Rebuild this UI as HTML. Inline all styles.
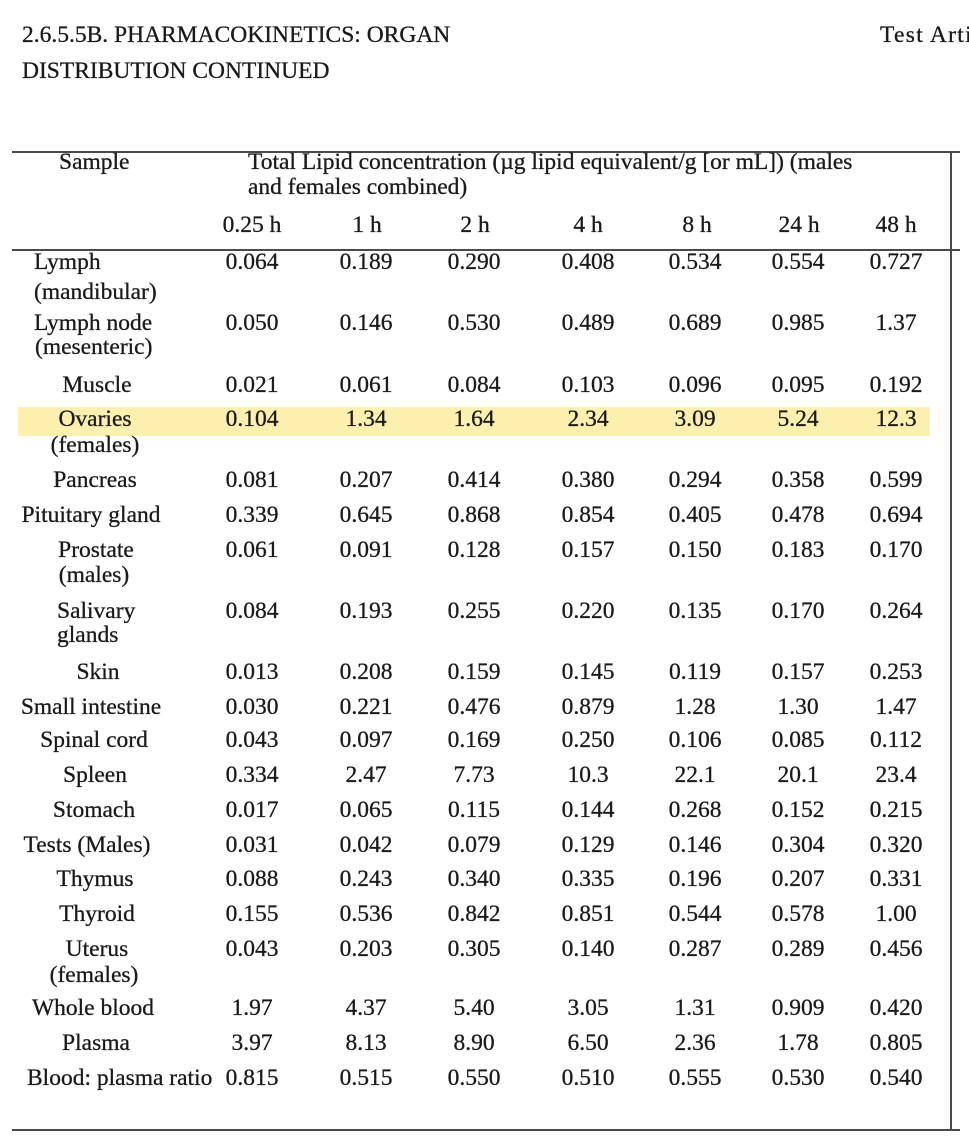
<!DOCTYPE html>
<html>
<head>
<meta charset="utf-8">
<style>
html,body{margin:0;padding:0;background:#fff;}
body{width:969px;height:1145px;position:relative;overflow:hidden;font-family:"Liberation Serif","Times New Roman",serif;font-size:23.5px;color:#1a1a1a;-webkit-text-stroke:0.3px #1a1a1a;}
.t{position:absolute;white-space:nowrap;line-height:26px;height:26px;}
.c{width:140px;text-align:center;}
.s{width:190px;text-align:center;}
.rule{position:absolute;background:#4a4a4a;}
.hl{position:absolute;left:18px;top:407px;width:912px;height:29px;background:#fdf0ae;}
</style>
</head>
<body>
<div class="t" style="left:22px;top:22px;">2.6.5.5B. PHARMACOKINETICS: ORGAN</div>
<div class="t" style="left:22px;top:58px;">DISTRIBUTION CONTINUED</div>
<div class="t" style="left:880px;top:22px;letter-spacing:1.3px;">Test Article</div>

<div class="rule" style="left:12px;top:151px;width:948px;height:2px;"></div>
<div class="rule" style="left:12px;top:249px;width:948px;height:2px;"></div>
<div class="rule" style="left:12px;top:1129px;width:948px;height:2px;"></div>
<div class="rule" style="left:950px;top:151px;width:2px;height:980px;"></div>

<div class="hl"></div>

<div class="t" style="left:59px;top:149px;">Sample</div>
<div class="t" style="left:248px;top:149px;">Total Lipid concentration (µg lipid equivalent/g [or mL]) (males</div>
<div class="t" style="left:248px;top:174px;">and females combined)</div>

<div class="t c" style="left:182px;top:212px;">0.25 h</div>
<div class="t c" style="left:297px;top:212px;">1 h</div>
<div class="t c" style="left:405px;top:212px;">2 h</div>
<div class="t c" style="left:518px;top:212px;">4 h</div>
<div class="t c" style="left:627px;top:212px;">8 h</div>
<div class="t c" style="left:729px;top:212px;">24 h</div>
<div class="t c" style="left:826px;top:212px;">48 h</div>

<!-- Lymph -->
<div class="t" style="left:34px;top:249px;">Lymph</div>
<div class="t" style="left:34px;top:279px;">(mandibular)</div>
<!-- Lymph node -->
<div class="t" style="left:34px;top:310px;">Lymph node</div>
<div class="t" style="left:35px;top:334px;">(mesenteric)</div>
<!-- centered labels -->
<div class="t s" style="left:2px;top:372px;">Muscle</div>
<div class="t s" style="left:0px;top:406px;">Ovaries</div>
<div class="t s" style="left:0px;top:432px;">(females)</div>
<div class="t s" style="left:0px;top:467px;">Pancreas</div>
<div class="t s" style="left:-4px;top:502px;">Pituitary gland</div>
<div class="t s" style="left:1px;top:537px;">Prostate</div>
<div class="t s" style="left:-1px;top:562px;">(males)</div>
<div class="t" style="left:57px;top:598px;">Salivary</div>
<div class="t" style="left:57px;top:622px;">glands</div>
<div class="t s" style="left:3px;top:659px;">Skin</div>
<div class="t s" style="left:-4px;top:694px;">Small intestine</div>
<div class="t s" style="left:-1px;top:727px;">Spinal cord</div>
<div class="t s" style="left:0px;top:762px;">Spleen</div>
<div class="t s" style="left:-1px;top:797px;">Stomach</div>
<div class="t s" style="left:-8px;top:832px;">Tests (Males)</div>
<div class="t s" style="left:0px;top:866px;">Thymus</div>
<div class="t s" style="left:2px;top:901px;">Thyroid</div>
<div class="t s" style="left:2px;top:936px;">Uterus</div>
<div class="t s" style="left:-1px;top:962px;">(females)</div>
<div class="t s" style="left:-2px;top:995px;">Whole blood</div>
<div class="t s" style="left:1px;top:1030px;">Plasma</div>
<div class="t" style="left:27px;top:1065px;">Blood: plasma ratio</div>

<!-- data rows -->
<div class="t c" style="left:182px;top:249px;">0.064</div><div class="t c" style="left:296px;top:249px;">0.189</div><div class="t c" style="left:404px;top:249px;">0.290</div><div class="t c" style="left:518px;top:249px;">0.408</div><div class="t c" style="left:625px;top:249px;">0.534</div><div class="t c" style="left:728px;top:249px;">0.554</div><div class="t c" style="left:826px;top:249px;">0.727</div>

<div class="t c" style="left:182px;top:310px;">0.050</div><div class="t c" style="left:296px;top:310px;">0.146</div><div class="t c" style="left:404px;top:310px;">0.530</div><div class="t c" style="left:518px;top:310px;">0.489</div><div class="t c" style="left:625px;top:310px;">0.689</div><div class="t c" style="left:728px;top:310px;">0.985</div><div class="t c" style="left:826px;top:310px;">1.37</div>

<div class="t c" style="left:182px;top:372px;">0.021</div><div class="t c" style="left:296px;top:372px;">0.061</div><div class="t c" style="left:404px;top:372px;">0.084</div><div class="t c" style="left:518px;top:372px;">0.103</div><div class="t c" style="left:625px;top:372px;">0.096</div><div class="t c" style="left:728px;top:372px;">0.095</div><div class="t c" style="left:826px;top:372px;">0.192</div>

<div class="t c" style="left:182px;top:406px;">0.104</div><div class="t c" style="left:296px;top:406px;">1.34</div><div class="t c" style="left:404px;top:406px;">1.64</div><div class="t c" style="left:518px;top:406px;">2.34</div><div class="t c" style="left:625px;top:406px;">3.09</div><div class="t c" style="left:728px;top:406px;">5.24</div><div class="t c" style="left:826px;top:406px;">12.3</div>

<div class="t c" style="left:182px;top:467px;">0.081</div><div class="t c" style="left:296px;top:467px;">0.207</div><div class="t c" style="left:404px;top:467px;">0.414</div><div class="t c" style="left:518px;top:467px;">0.380</div><div class="t c" style="left:625px;top:467px;">0.294</div><div class="t c" style="left:728px;top:467px;">0.358</div><div class="t c" style="left:826px;top:467px;">0.599</div>

<div class="t c" style="left:182px;top:502px;">0.339</div><div class="t c" style="left:296px;top:502px;">0.645</div><div class="t c" style="left:404px;top:502px;">0.868</div><div class="t c" style="left:518px;top:502px;">0.854</div><div class="t c" style="left:625px;top:502px;">0.405</div><div class="t c" style="left:728px;top:502px;">0.478</div><div class="t c" style="left:826px;top:502px;">0.694</div>

<div class="t c" style="left:182px;top:537px;">0.061</div><div class="t c" style="left:296px;top:537px;">0.091</div><div class="t c" style="left:404px;top:537px;">0.128</div><div class="t c" style="left:518px;top:537px;">0.157</div><div class="t c" style="left:625px;top:537px;">0.150</div><div class="t c" style="left:728px;top:537px;">0.183</div><div class="t c" style="left:826px;top:537px;">0.170</div>

<div class="t c" style="left:182px;top:598px;">0.084</div><div class="t c" style="left:296px;top:598px;">0.193</div><div class="t c" style="left:404px;top:598px;">0.255</div><div class="t c" style="left:518px;top:598px;">0.220</div><div class="t c" style="left:625px;top:598px;">0.135</div><div class="t c" style="left:728px;top:598px;">0.170</div><div class="t c" style="left:826px;top:598px;">0.264</div>

<div class="t c" style="left:182px;top:659px;">0.013</div><div class="t c" style="left:296px;top:659px;">0.208</div><div class="t c" style="left:404px;top:659px;">0.159</div><div class="t c" style="left:518px;top:659px;">0.145</div><div class="t c" style="left:625px;top:659px;">0.119</div><div class="t c" style="left:728px;top:659px;">0.157</div><div class="t c" style="left:826px;top:659px;">0.253</div>

<div class="t c" style="left:182px;top:694px;">0.030</div><div class="t c" style="left:296px;top:694px;">0.221</div><div class="t c" style="left:404px;top:694px;">0.476</div><div class="t c" style="left:518px;top:694px;">0.879</div><div class="t c" style="left:625px;top:694px;">1.28</div><div class="t c" style="left:728px;top:694px;">1.30</div><div class="t c" style="left:826px;top:694px;">1.47</div>

<div class="t c" style="left:182px;top:727px;">0.043</div><div class="t c" style="left:296px;top:727px;">0.097</div><div class="t c" style="left:404px;top:727px;">0.169</div><div class="t c" style="left:518px;top:727px;">0.250</div><div class="t c" style="left:625px;top:727px;">0.106</div><div class="t c" style="left:728px;top:727px;">0.085</div><div class="t c" style="left:826px;top:727px;">0.112</div>

<div class="t c" style="left:182px;top:762px;">0.334</div><div class="t c" style="left:296px;top:762px;">2.47</div><div class="t c" style="left:404px;top:762px;">7.73</div><div class="t c" style="left:518px;top:762px;">10.3</div><div class="t c" style="left:625px;top:762px;">22.1</div><div class="t c" style="left:728px;top:762px;">20.1</div><div class="t c" style="left:826px;top:762px;">23.4</div>

<div class="t c" style="left:182px;top:797px;">0.017</div><div class="t c" style="left:296px;top:797px;">0.065</div><div class="t c" style="left:404px;top:797px;">0.115</div><div class="t c" style="left:518px;top:797px;">0.144</div><div class="t c" style="left:625px;top:797px;">0.268</div><div class="t c" style="left:728px;top:797px;">0.152</div><div class="t c" style="left:826px;top:797px;">0.215</div>

<div class="t c" style="left:182px;top:832px;">0.031</div><div class="t c" style="left:296px;top:832px;">0.042</div><div class="t c" style="left:404px;top:832px;">0.079</div><div class="t c" style="left:518px;top:832px;">0.129</div><div class="t c" style="left:625px;top:832px;">0.146</div><div class="t c" style="left:728px;top:832px;">0.304</div><div class="t c" style="left:826px;top:832px;">0.320</div>

<div class="t c" style="left:182px;top:866px;">0.088</div><div class="t c" style="left:296px;top:866px;">0.243</div><div class="t c" style="left:404px;top:866px;">0.340</div><div class="t c" style="left:518px;top:866px;">0.335</div><div class="t c" style="left:625px;top:866px;">0.196</div><div class="t c" style="left:728px;top:866px;">0.207</div><div class="t c" style="left:826px;top:866px;">0.331</div>

<div class="t c" style="left:182px;top:901px;">0.155</div><div class="t c" style="left:296px;top:901px;">0.536</div><div class="t c" style="left:404px;top:901px;">0.842</div><div class="t c" style="left:518px;top:901px;">0.851</div><div class="t c" style="left:625px;top:901px;">0.544</div><div class="t c" style="left:728px;top:901px;">0.578</div><div class="t c" style="left:826px;top:901px;">1.00</div>

<div class="t c" style="left:182px;top:936px;">0.043</div><div class="t c" style="left:296px;top:936px;">0.203</div><div class="t c" style="left:404px;top:936px;">0.305</div><div class="t c" style="left:518px;top:936px;">0.140</div><div class="t c" style="left:625px;top:936px;">0.287</div><div class="t c" style="left:728px;top:936px;">0.289</div><div class="t c" style="left:826px;top:936px;">0.456</div>

<div class="t c" style="left:182px;top:995px;">1.97</div><div class="t c" style="left:296px;top:995px;">4.37</div><div class="t c" style="left:404px;top:995px;">5.40</div><div class="t c" style="left:518px;top:995px;">3.05</div><div class="t c" style="left:625px;top:995px;">1.31</div><div class="t c" style="left:728px;top:995px;">0.909</div><div class="t c" style="left:826px;top:995px;">0.420</div>

<div class="t c" style="left:182px;top:1030px;">3.97</div><div class="t c" style="left:296px;top:1030px;">8.13</div><div class="t c" style="left:404px;top:1030px;">8.90</div><div class="t c" style="left:518px;top:1030px;">6.50</div><div class="t c" style="left:625px;top:1030px;">2.36</div><div class="t c" style="left:728px;top:1030px;">1.78</div><div class="t c" style="left:826px;top:1030px;">0.805</div>

<div class="t c" style="left:182px;top:1065px;">0.815</div><div class="t c" style="left:296px;top:1065px;">0.515</div><div class="t c" style="left:404px;top:1065px;">0.550</div><div class="t c" style="left:518px;top:1065px;">0.510</div><div class="t c" style="left:625px;top:1065px;">0.555</div><div class="t c" style="left:728px;top:1065px;">0.530</div><div class="t c" style="left:826px;top:1065px;">0.540</div>
</body>
</html>
